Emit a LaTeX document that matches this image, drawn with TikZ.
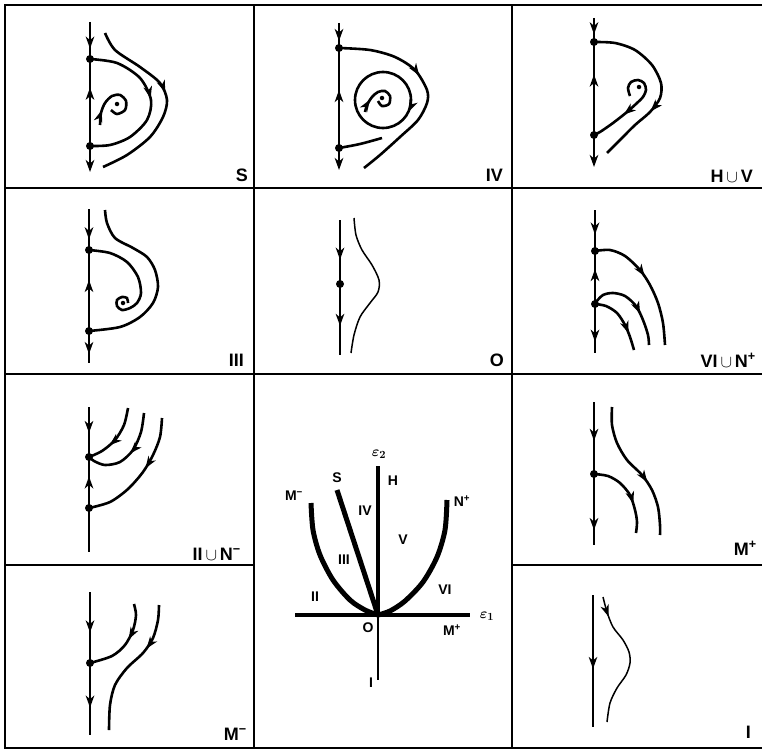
\documentclass[tikz,border=0pt]{standalone}
\usepackage{fontspec}
\newfontfamily\lblfont{Liberation Sans}
\usetikzlibrary{arrows.meta,decorations.markings}

\begin{document}
\begin{tikzpicture}[
  x=1pt, y=-1pt,
  flowtip/.tip={Stealth[length=12pt,width=8.5pt,inset=3.5pt]},
  frame/.style={line width=1.7pt},
  orbit/.style={line width=2.6pt},
  faint/.style={line width=1.5pt},
  arr/.style={postaction={decorate,decoration={markings,
      mark=at position #1 with {\arrow{flowtip}}}}},
  eqpt/.style={circle, fill, inner sep=0pt, minimum size=8pt},
  focus/.style={circle, fill, inner sep=0pt, minimum size=4.5pt},
  region/.style={font=\lblfont\bfseries\fontsize{18}{20}\selectfont,
                 anchor=base east, inner sep=0pt},
  tag/.style={font=\lblfont\bfseries\fontsize{14}{16}\selectfont, inner sep=1pt},
  bif/.style={line width=5pt},
]
  \useasboundingbox (0,0) rectangle (762,752);

  % panel grid
  \draw[frame] (762,5) -- (5,5) -- (5,748) -- (762,748);
  \draw[frame] (254,5) -- (254,748);
  \draw[frame] (512,5) -- (512,748);
  \draw[frame] (5,188) -- (762,188);
  \draw[frame] (5,374) -- (762,374);
  \draw[frame] (5,565) -- (254,565);
  \draw[frame] (512,565) -- (762,565);

  % S
  \node[eqpt] (s1) at (90,59) {};
  \node[eqpt] (s2) at (90,146) {};
  \node[focus] (sf) at (117,104) {};
  \draw[orbit, arr=0.72] (90,22) -- (s1.center);
  \draw[orbit, arr=0.67] (s2.center) -- (s1.center);
  \draw[orbit, -{flowtip}] (s2.center) -- (90,172);
  \draw[orbit, arr=0.47] plot[smooth] coordinates {(s1.center) (117,63) (140,78) (151,100) (147,120) (130,137) (110,145) (s2.center)};
  \draw[orbit, arr=0.45] plot[smooth] coordinates {(105,33) (115,50) (140,67) (160,83) (167,100) (163,117) (150,137) (127,155) (103,167)};
  \draw[orbit, arr=0.2] plot[smooth] coordinates {(100,125) (101,113) (105,103) (112,96) (120,95) (126,101) (125,110) (117,114) (111,110)};
  \node[region] (lS) at (248,181) {S};

  % IV
  \node[eqpt] (iv1) at (339,48) {};
  \node[eqpt] (iv2) at (339,148) {};
  \node[focus] (ivf) at (382,98) {};
  \draw[orbit, arr=0.72] (339,23) -- (iv1.center);
  \draw[orbit, arr=0.58] (iv2.center) -- (iv1.center);
  \draw[orbit, -{flowtip}] (iv2.center) -- (339,170);
  \draw[orbit, arr=0.42] plot[smooth] coordinates {(iv1.center) (370,50) (395,57) (415,70) (427,90) (427,103) (418,120) (400,137) (380,155) (364,168)};
  \draw[orbit] plot[smooth] coordinates {(iv2.center) (360,144) (382,138)};
  \draw[orbit, arr=0.07] (411,100) arc[start angle=0, end angle=360, radius=28];
  \draw[orbit, arr=0.22] plot[smooth] coordinates {(365,112) (367,105) (372,97) (378,92) (385,91) (390,96) (389,104) (382,106) (378,101)};
  \node[region] (lIV) at (503,181) {IV};

  % H u V
  \node[eqpt] (h1) at (594,42) {};
  \node[eqpt] (h2) at (594,135) {};
  \node[focus] (hf) at (639,87) {};
  \draw[orbit, arr=0.68] (594,18) -- (h1.center);
  \draw[orbit, arr=0.65] (h2.center) -- (h1.center);
  \draw[orbit, -{flowtip}] (h2.center) -- (594,167);
  \draw[orbit, arr=0.66] plot[smooth] coordinates {(h1.center) (615,43) (635,50) (652,65) (661,83) (660,98) (650,112) (635,125) (620,140) (607,153)};
  \draw[orbit, arr=0.66] plot[smooth] coordinates {(630,96) (628,88) (631,82) (638,80) (644,83) (646,90) (643,97) (637,103) (627,112) (613,123) (600,132) (h2.center)};
  \node[region] (lHV) at (753,182) {H$\,\cup\,$V};

  % III
  \node[eqpt] (t1) at (89,250) {};
  \node[eqpt] (t2) at (89,331) {};
  \node[focus] (tf) at (123,303) {};
  \draw[orbit, arr=0.74] (89,209) -- (t1.center);
  \draw[orbit, arr=0.63] (t2.center) -- (t1.center);
  \draw[orbit, arr=0.72] (t2.center) -- (89,363);
  \draw[orbit] plot[smooth] coordinates {(t1.center) (110,253) (127,262) (138,277) (141,293) (137,303) (130,308) (122,310) (117,306) (117,300) (122,297) (127,298) (128,303)};
  \draw[orbit] plot[smooth] coordinates {(105,210) (107,223) (115,238) (133,248) (147,257) (155,270) (158,287) (153,303) (140,317) (120,327) (t2.center)};
  \node[region] (lIII) at (244,366) {III};

  % O
  \node[eqpt] (o1) at (340,284) {};
  \draw[orbit, line width=2pt, arr=0.62] (340,220) -- (o1.center);
  \draw[orbit, line width=2pt, arr=0.59] (o1.center) -- (340,355);
  \draw[faint] plot[smooth] coordinates {(354,218) (356,235) (362,250) (372,265) (379,280) (378,292) (370,303) (360,317) (354,335) (351,353)};
  \node[region] (lO) at (504,366) {O};

  % VI u N+
  \node[eqpt] (v1) at (595,251) {};
  \node[eqpt] (v2) at (595,304) {};
  \draw[orbit, arr=0.6] (595,210) -- (v1.center);
  \draw[orbit, arr=0.66] (v2.center) -- (v1.center);
  \draw[orbit, arr=0.77] (v2.center) -- (595,353);
  \draw[orbit, arr=0.45] plot[smooth] coordinates {(v1.center) (610,250) (625,256) (640,270) (650,285) (658,303) (663,323) (665,345)};
  \draw[orbit, arr=0.63] plot[smooth] coordinates {(596,302) (603,295) (613,293) (625,296) (636,306) (643,320) (648,335) (649,345)};
  \draw[orbit, arr=0.73] plot[smooth] coordinates {(v2.center) (606,306) (617,313) (625,325) (630,337) (634,350)};
  \node[region] (lVI) at (756,367) {VI$\,\cup\,$N\textsuperscript{+}};

  % II u N-
  \node[eqpt] (n1) at (89,457) {};
  \node[eqpt] (n2) at (89,508) {};
  \draw[orbit, arr=0.52] (89,407) -- (n1.center);
  \draw[orbit, arr=0.62] (n2.center) -- (n1.center);
  \draw[orbit] (n2.center) -- (89,552);
  \draw[orbit, arr=0.64] plot[smooth] coordinates {(128,408) (124,425) (115,440) (102,451) (n1.center)};
  \draw[orbit, arr=0.48] plot[smooth] coordinates {(144,413) (141,432) (133,450) (120,462) (105,465) (94,461) (n1.center)};
  \draw[orbit, arr=0.43] plot[smooth] coordinates {(162,418) (160,437) (153,455) (143,472) (128,489) (110,502) (n2.center)};
  \node[region] (lII) at (241,560) {II$\,\cup\,$N\textsuperscript{−}};

  % bifurcation diagram
  \coordinate (org) at (378,615);
  \draw[line width=4.2pt] (295,615) -- (470,615);
  \draw[line width=3.8pt] (378,466) -- (org);
  \draw[line width=2.2pt] (org) -- (378,680);
  \draw[bif] (337,490) -- (org);
  \draw[bif] plot[smooth] coordinates {(311,503) (313,530) (320,555) (333,580) (350,600) (365,610) (org)};
  \draw[bif] plot[smooth] coordinates {(447,500) (445,530) (437,557) (423,582) (405,601) (390,611) (org)};
  \node[tag, font=\fontsize{15}{17}\selectfont\boldmath] (e2) at (379,454) {$\varepsilon_2$};
  \node[tag, font=\fontsize{15}{17}\selectfont\boldmath] (e1) at (487,616) {$\varepsilon_1$};
  \node[tag] (bH) at (393,481) {H};
  \node[tag] (bS) at (337,478) {S};
  \node[tag] (bMm) at (294,496) {M\textsuperscript{−}};
  \node[tag] (bIV) at (365,511) {IV};
  \node[tag] (bV) at (403,540) {V};
  \node[tag] (bIII) at (344,560) {III};
  \node[tag] (bII) at (315,597) {II};
  \node[tag] (bVI) at (445,590) {VI};
  \node[tag] (bNp) at (462,501) {N\textsuperscript{+}};
  \node[tag] (bO) at (368,628) {O};
  \node[tag] (bMp) at (452,630) {M\textsuperscript{+}};
  \node[tag] (bI) at (371,683) {I};

  % M+
  \node[eqpt] (p1) at (594,474) {};
  \draw[orbit, arr=0.54] (594,402) -- (p1.center);
  \draw[orbit, arr=0.79] (p1.center) -- (594,545);
  \draw[orbit, arr=0.64] plot[smooth] coordinates {(p1.center) (608,476) (620,483) (630,495) (635,510) (637,522) (636,533)};
  \draw[orbit, arr=0.61] plot[smooth] coordinates {(612,407) (612,425) (617,443) (627,460) (642,475) (652,490) (658,507) (660,525) (660,535)};
  \node[region] (lMp) at (757,555) {M\textsuperscript{+}};

  % M-
  \node[eqpt] (m1) at (90,663) {};
  \draw[orbit, arr=0.57] (90,592) -- (m1.center);
  \draw[orbit, arr=0.62] (m1.center) -- (90,735);
  \draw[orbit, arr=0.44] plot[smooth] coordinates {(134,604) (136,615) (133,630) (125,645) (112,656) (m1.center)};
  \draw[orbit, arr=0.33] plot[smooth] coordinates {(159,605) (158,620) (153,638) (143,653) (127,668) (115,685) (110,705) (109,730)};
  \node[region] (lMm) at (247,740) {M\textsuperscript{−}};

  % I
  \draw[faint, arr=0.56] (593,595) -- (593,727);
  \draw[faint, arr=0.15] plot[smooth] coordinates {(603,597) (607,612) (613,627) (623,640) (629,652) (630,663) (626,675) (617,688) (610,703) (607,722)};
  \node[region] (lI) at (751,738) {I};
\end{tikzpicture}
\end{document}
